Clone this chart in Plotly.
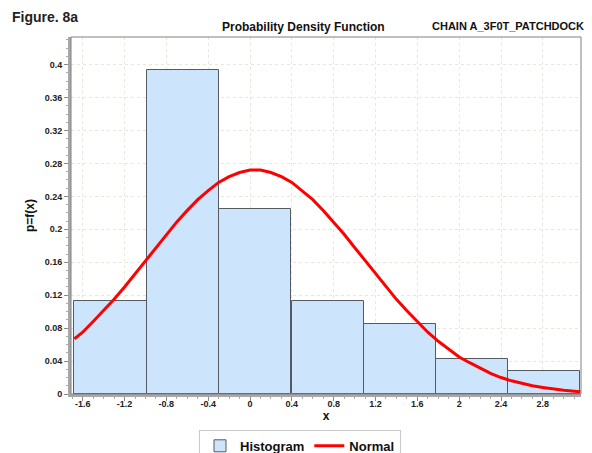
import plotly.graph_objects as go

# histogramme (fréquences relatives), bornes des classes
bin_left = [-1.68, -0.99, -0.30, 0.40, 1.09, 1.78, 2.47]
bin_width = 0.69
rel_freq = [0.113, 0.394, 0.225, 0.113, 0.085, 0.042, 0.028]

# courbe normale
curve_x = [-1.68, -1.6, -1.5, -1.4, -1.3, -1.2, -1.1, -1.0, -0.9, -0.8, -0.7, -0.6, -0.5, -0.4,
           -0.3, -0.2, -0.1, 0.0, 0.1, 0.2, 0.3, 0.4, 0.5, 0.6, 0.7, 0.8, 0.9, 1.0, 1.1, 1.2,
           1.3, 1.4, 1.5, 1.6, 1.7, 1.8, 1.9, 2.0, 2.1, 2.2, 2.3, 2.4, 2.5, 2.6, 2.7, 2.8,
           2.9, 3.0, 3.1, 3.16]
curve_y = [0.067, 0.075, 0.088, 0.101, 0.115, 0.130, 0.146, 0.162, 0.178, 0.194, 0.209, 0.223, 0.236, 0.247,
           0.257, 0.264, 0.269, 0.272, 0.272, 0.269, 0.264, 0.257, 0.247, 0.236, 0.223, 0.209, 0.194, 0.178, 0.162, 0.146,
           0.130, 0.115, 0.101, 0.088, 0.075, 0.064, 0.054, 0.045, 0.038, 0.031, 0.025, 0.020, 0.016, 0.013, 0.010, 0.008,
           0.006, 0.0045, 0.0034, 0.0028]

x_ticks = [-1.6, -1.2, -0.8, -0.4, 0, 0.4, 0.8, 1.2, 1.6, 2, 2.4, 2.8]
y_ticks = [0, 0.04, 0.08, 0.12, 0.16, 0.2, 0.24, 0.28, 0.32, 0.36, 0.4]

font = "Liberation Sans, Arial, sans-serif"

fig = go.Figure()
fig.add_trace(go.Bar(x=bin_left, y=rel_freq, width=bin_width, offset=0, name="Histogram",
                     marker=dict(color="#cce4fc", line=dict(color="#555a60", width=1))))
fig.add_trace(go.Scatter(x=curve_x, y=curve_y, mode="lines", name="Normal",
                         line=dict(color="#ff0000", width=3)))

axis_common = dict(showline=True, linecolor="#a8a8a8", linewidth=3, ticks="outside", ticklen=4,
                   tickcolor="#888888", showgrid=True, gridcolor="#ebe7d3", griddash="dot",
                   gridwidth=1, zeroline=False, automargin=False,
                   tickfont=dict(family=font, size=9, color="#222222", weight="bold"))

fig.update_xaxes(range=[-1.712, 3.165], tickvals=x_ticks, ticktext=[f"{v:g}" for v in x_ticks],
                 minor=dict(dtick=0.1, tick0=0, ticks="outside", ticklen=2, tickcolor="#aaaaaa"),
                 ticklabelstandoff=-5,
                 title=dict(text="x", font=dict(family=font, size=12, weight="bold", color="#111111"),
                            standoff=0),
                 **axis_common)
fig.update_yaxes(range=[0, 0.4336], tickvals=y_ticks, ticktext=[f"{v:g}" for v in y_ticks],
                 minor=dict(dtick=0.01, tick0=0, ticks="outside", ticklen=2, tickcolor="#aaaaaa"),
                 title=dict(text="p=f(x)", font=dict(family=font, size=12, weight="bold", color="#111111"),
                            standoff=8),
                 **axis_common)

# la page ajoute une marge de 8 px : la figure est réduite d'autant
fig.update_layout(
    width=584, height=445,
    margin=dict(l=63, r=11, t=29, b=59),
    paper_bgcolor="white", plot_bgcolor="white",
    bargap=0, showlegend=True,
    legend=dict(orientation="h", xref="container", yref="container", x=0.5, y=0.052,
                xanchor="center", yanchor="top", bordercolor="#c8c8c8", borderwidth=1,
                font=dict(family=font, size=13, weight="bold", color="#111111"),
                itemwidth=30, tracegroupgap=0),
    shapes=[dict(type="rect", xref="paper", yref="paper", x0=0, y0=0, x1=1, y1=1,
                 line=dict(color="#808080", width=1), layer="above")],
    annotations=[
        dict(text="Figure. 8a", xref="paper", yref="paper", x=-0.1196, y=1.055, xanchor="left",
             yanchor="middle", showarrow=False,
             font=dict(family=font, size=14, weight="bold", color="#222222")),
        dict(text="Probability Density Function", xref="paper", yref="paper", x=0.455, y=1.028,
             xanchor="center", yanchor="middle", showarrow=False,
             font=dict(family=font, size=12, weight="bold", color="#111111")),
        dict(text="CHAIN A_3F0T_PATCHDOCK", xref="paper", yref="paper", x=1.0098, y=1.032,
             xanchor="right", yanchor="middle", showarrow=False,
             font=dict(family=font, size=11, weight="bold", color="#111111")),
    ],
)

fig.write_html("out.html")
